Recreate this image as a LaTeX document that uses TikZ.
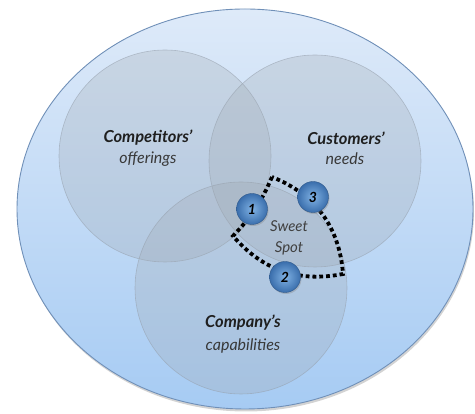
\documentclass[tikz,border=0pt]{standalone}
\usepackage{fontspec}
\setmainfont{Lato}
\usetikzlibrary{shadows}

\definecolor{skytop}{RGB}{222,234,249}
\definecolor{skybot}{RGB}{166,203,243}
\definecolor{skyrim}{RGB}{112,144,184}
\definecolor{setfill}{RGB}{160,168,176}
\definecolor{setrim}{RGB}{150,160,172}
\definecolor{dotin}{RGB}{128,178,228}
\definecolor{dotout}{RGB}{58,110,172}

\begin{document}
\begin{tikzpicture}[x=1pt, y=1pt,
    set/.style={circle, minimum size=212pt, inner sep=0pt, draw=setrim, line width=0.6pt, fill=setfill, fill opacity=0.28, draw opacity=0.6},
    title/.style={font=\fontsize{16.5}{18}\selectfont\bfseries\itshape, text=black!88},
    sub/.style={font=\fontsize{16}{18}\selectfont\itshape, text=black!78},
    spot/.style={font=\fontsize{15}{17}\selectfont\itshape, text=black!75},
    marker/.style={circle, minimum size=31pt, inner sep=0pt, shading=radial, inner color=dotin, outer color=dotout, draw=dotout!80!black, line width=0.4pt, drop shadow={shadow xshift=1pt, shadow yshift=-1.5pt, opacity=0.35}, font=\fontsize{14}{14}\selectfont\bfseries\itshape},
    sweet/.style={line width=3.8pt, dash pattern=on 3.8pt off 3pt, black}]

    \useasboundingbox (0,0) rectangle (475,414);

    % market background
    \path[top color=skytop, bottom color=skybot, draw=skyrim, line width=0.9pt, drop shadow={shadow xshift=1pt, shadow yshift=-2.5pt, opacity=0.35}] (245,205) ellipse [x radius=228, y radius=200];

    % the three sets
    \node[set] (comp) at (165,258) {};
    \node[set] (cust) at (315,253) {};
    \node[set] (firm) at (241,126) {};

    % corners of the sweet spot
    \coordinate (v1) at (272,237);
    \coordinate (v2) at (343,140);
    \coordinate (v3) at (233,178);

    \draw[sweet] (v1) to[bend left=10] (v3) to[bend right=30] (v2) to[bend right=32] (v1) -- cycle;

    \node[marker] (m1) at (252,205) {1};
    \node[marker] (m2) at (285,137) {2};
    \node[marker] (m3) at (313,217) {3};

    \node[title] (compT) at (148,276) {Competitors’};
    \node[sub]   (compS) at (148,255) {offerings};
    \node[title] (custT) at (346,276) {Customers’};
    \node[sub]   (custS) at (345,255) {needs};
    \node[title] (firmT) at (243,91) {Company’s};
    \node[sub]   (firmS) at (243,68) {capabilities};

    \node[spot] (sweetT) at (289,188) {Sweet};
    \node[spot] (sweetS) at (289,166) {Spot};
\end{tikzpicture}
\end{document}
